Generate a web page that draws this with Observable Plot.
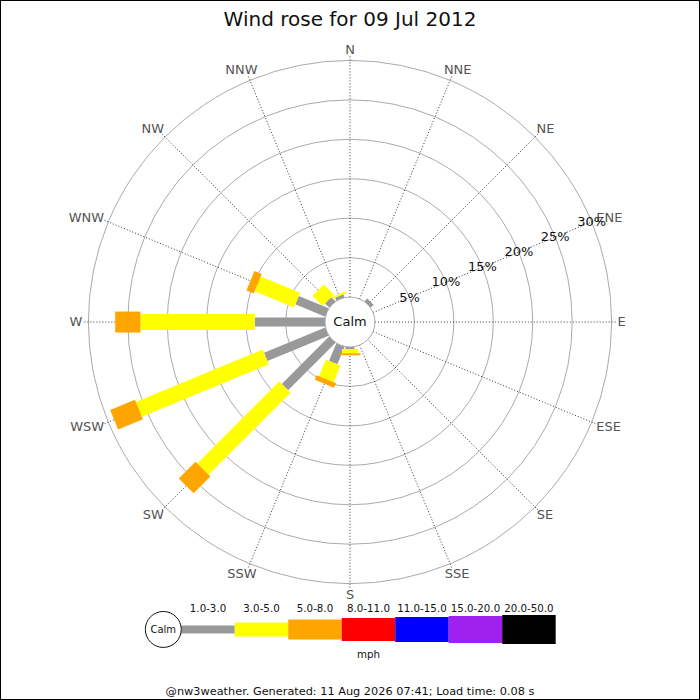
<!DOCTYPE html>
<html>
<head>
<meta charset="utf-8">
<script src="https://cdn.jsdelivr.net/npm/d3@7"></script>
<script src="https://cdn.jsdelivr.net/npm/@observablehq/plot@0.6"></script>
<style>
  body { margin: 0; background: #fff; font-family: "DejaVu Sans", sans-serif; }
  #wrap { position: relative; width: 700px; height: 700px; box-sizing: border-box; border: 1px solid #000; overflow: hidden; }
  #title { position: absolute; top: 6px; left: -1px; width: 700px; text-align: center; font-size: 20px; line-height: 24px; color: #111; }
  #rose { position: absolute; top: -1px; left: -1px; }
  #legend { position: absolute; top: 599px; left: -1px; }
  #foot { position: absolute; top: 684px; left: -1px; width: 700px; text-align: center; font-size: 11.3px; line-height: 13px; color: #111; }
</style>
</head>
<body>
<div id="wrap">
  <div id="rose"></div>
  <div id="title">Wind rose for 09 Jul 2012</div>
  <div id="legend"></div>
  <div id="foot">@nw3weather. Generated: 11 Aug 2026 07:41; Load time: 0.08 s</div>
</div>
<script>
// directions, clockwise from north
const directions = ["N", "NNE", "NE", "ENE", "E", "ESE", "SE", "SSE", "S", "SSW", "SW", "WSW", "W", "WNW", "NW", "NNW"]
const speedClasses = ["1.0-3.0", "3.0-5.0", "5.0-8.0", "8.0-11.0", "11.0-15.0", "15.0-20.0", "20.0-50.0"]
const classColors = ["#999999", "#ffff00", "#ffa500", "#ff0000", "#0000ff", "#a020f0", "#000000"]

// % of the day in each speed class, per direction
const light    = [0, 0, 0.5, 0, 0, 0, 0, 0, 0.25, 2.4, 8.5, 8.4, 8.9, 4.1, 0.75, 0.4]   // 1-3 mph
const gentle   = [0, 0, 0, 0, 0, 0, 0, 0, 0.55, 2.3, 14.7, 17.4, 14.5, 5.4, 1.8, 0.25]  // 3-5 mph
const moderate = [0, 0, 0, 0, 0, 0, 0, 0, 0.25, 0.6, 3.0, 3.4, 3.2, 1.0, 0, 0]         // 5-8 mph

const rings = [5, 10, 15, 20, 25, 30]

// styles
const roseWidths = [9, 16, 21]
const legendWidths = [8, 14, 20, 23, 25, 27, 29]

const series = [light, gentle, moderate]

// radial scale: the calm circle sits at 0%
const rs = d3.scaleLinear().domain([0, 30]).range([25, 262])
const ang = i => i * Math.PI / 8
const px = (r, i) => r * Math.sin(ang(i))
const py = (r, i) => r * Math.cos(ang(i))

// stacked segments, one per class and direction
const segs = []
series.forEach((s, k) => {
    directions.forEach((dir, i) => {
        const start = d3.sum(series.slice(0, k), t => t[i])
        if (s[i] > 0) segs.push({ dir, i, k, start, end: start + s[i] })
    })
})

const ctx = document.createElement('canvas').getContext('2d')
ctx.font = "13px 'DejaVu Sans'"
const labelR = 268
const dirLabels = directions.map((d, i) => {
    const w = ctx.measureText(d).width
    return {
        text: d,
        x: px(labelR, i) + Math.sin(ang(i)) * w / 2,
        y: py(labelR, i) + Math.cos(ang(i)) * 5
    }
})

const rose = Plot.plot({
    width: 700,
    height: 610,
    margin: 0,
    x: { domain: [-350, 350], axis: null },
    y: { domain: [-288, 322], axis: null },
    r: { type: 'identity' },
    color: { type: 'identity' },
    marks: [
        Plot.dot(rings, { x: () => 0, y: () => 0, r: d => rs(d), fill: 'none', stroke: '#aaaaaa', strokeWidth: 1 }),
        Plot.link(directions, {
            x1: (d, i) => px(25, i), y1: (d, i) => py(25, i),
            x2: (d, i) => px(266, i), y2: (d, i) => py(266, i),
            stroke: '#333', strokeWidth: 1, strokeDasharray: '1,2'
        }),
        Plot.link(segs, {
            x1: d => px(rs(d.start), d.i), y1: d => py(rs(d.start), d.i),
            x2: d => px(rs(d.end), d.i), y2: d => py(rs(d.end), d.i),
            stroke: d => classColors[d.k],
            strokeWidth: d => roseWidths[d.k],
            strokeLinecap: 'butt'
        }),
        Plot.dot(['Calm'], { x: () => 0, y: () => 0, r: 25, fill: 'white', stroke: '#aaaaaa', strokeWidth: 1 }),
        Plot.text(['Calm'], { x: () => 0, y: () => 0, text: d => d, fontSize: 13, fill: '#111' }),
        Plot.text(dirLabels, { x: 'x', y: 'y', text: 'text', fontSize: 13, fill: '#555' }),
        Plot.text(rings, { x: d => px(rs(d), 3), y: d => py(rs(d), 3), text: d => d + '%', fontSize: 13, fill: '#111' })
    ],
    style: {
        fontFamily: "'DejaVu Sans', sans-serif",
        background: 'transparent',
        overflow: 'visible'
    }
})
d3.select('#rose').append(() => rose)

const legend = Plot.plot({
    width: 700,
    height: 70,
    marginLeft: 181,
    marginRight: 144,
    marginTop: 0,
    marginBottom: 0,
    x: { domain: [0, 7], axis: null },
    y: { domain: [-41, 29], axis: null },
    r: { type: 'identity' },
    color: { type: 'identity' },
    marks: [
        Plot.link(speedClasses, {
            x1: (d, i) => i, x2: (d, i) => i + 1, y1: () => 0, y2: () => 0,
            stroke: (d, i) => classColors[i],
            strokeWidth: (d, i) => legendWidths[i]
        }),
        Plot.text(speedClasses, { x: (d, i) => i + 0.5, y: () => 21, text: d => d, fontSize: 10.3, fill: '#111' }),
        Plot.dot(['Calm'], { x: () => 0, y: () => 0, dx: -18, r: 18, fill: 'white', stroke: '#111', strokeWidth: 1 }),
        Plot.text(['Calm'], { x: () => 0, y: () => 0, dx: -18, text: d => d, fontSize: 10, fill: '#111' }),
        Plot.text(['mph'], { x: () => 3.5, y: () => -25, text: d => d, fontSize: 10.3, fill: '#111' })
    ],
    style: {
        fontFamily: "'DejaVu Sans', sans-serif",
        background: 'transparent',
        overflow: 'visible'
    }
})
d3.select('#legend').append(() => legend)
</script>
</body>
</html>
